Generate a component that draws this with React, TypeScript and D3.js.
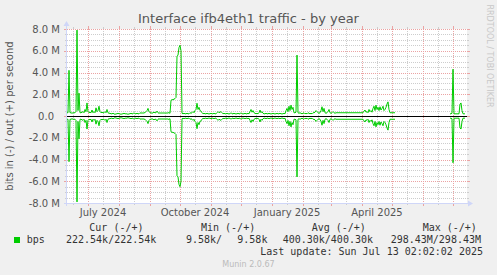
import React from 'react';
import * as d3 from 'd3';

// ---------- data ----------
const startDate = new Date(2024, 5, 10);
const endDate = new Date(2025, 6, 15);
// daily values in Mbit/s (out = +, in = -; identical on this interface)
const segmentStartDays = [0, 383];
const segmentA = [
  0.3, 0.3, 4.2, 0.3, 0.3, 0.25, 0.3, 0.3, 0.3, 0.4,
  7.9, 0.5, 2.1, 0.3, 0.3, 0.35, 0.4, 0.3, 0.6, 0.4,
  1.2, 0.4, 0.3, 0.35, 0.3, 0.55, 0.3, 0.4, 0.3, 0.75,
  0.4, 0.5, 0.9, 0.4, 0.3, 0.35, 0.3, 0.3, 0.4, 0.3,
  0.6, 0.3, 0.25, 0.25, 0.2, 0.2, 0.25, 0.2, 0.15, 0.2,
  0.2, 0.25, 0.2, 0.2, 0.15, 0.2, 0.2, 0.25, 0.2, 0.2,
  0.2, 0.15, 0.2, 0.2, 0.25, 0.2, 0.2, 0.3, 0.2, 0.2,
  0.25, 0.2, 0.2, 0.3, 0.25, 0.3, 0.25, 0.3, 0.3, 0.4,
  0.5, 0.7, 0.4, 0.3, 0.3, 0.25, 0.3, 0.35, 0.3, 0.3,
  0.45, 0.3, 0.25, 0.3, 0.25, 0.3, 0.25, 0.3, 0.25, 0.3,
  0.25, 0.3, 0.3, 0.25, 1.45, 1.5, 1.5, 1.55, 1.6, 1.7,
  5.5, 5.6, 6.3, 6.5, 6.0, 0.25, 0.2, 0.25, 0.2, 0.2,
  0.25, 0.2, 0.2, 0.3, 0.25, 0.3, 0.4, 0.3, 0.5, 0.6,
  1.17, 0.6, 0.8, 0.5, 0.45, 0.3, 0.2, 0.25, 0.2, 0.2,
  0.25, 0.2, 0.2, 0.2, 0.25, 0.2, 0.2, 0.25, 0.2, 0.2,
  0.3, 0.4, 0.3, 0.35, 0.4, 0.3, 0.2, 0.25, 0.2, 0.2,
  0.25, 0.2, 0.2, 0.2, 0.3, 0.2, 0.2, 0.25, 0.2, 0.2,
  0.2, 0.25, 0.2, 0.2, 0.3, 0.2, 0.2, 0.2, 0.25, 0.2,
  0.2, 0.25, 0.2, 0.4, 0.6, 0.35, 0.5, 0.3, 0.25, 0.2,
  0.25, 0.2, 0.3, 0.55, 0.3, 0.4, 0.25, 0.2, 0.2, 0.25,
  0.2, 0.2, 0.25, 0.2, 0.2, 0.2, 0.25, 0.2, 0.2, 0.2,
  0.25, 0.2, 0.2, 0.25, 0.2, 0.2, 0.2, 0.25, 0.2, 0.5,
  0.7, 0.4, 0.9, 0.5, 1.0, 0.6, 0.8, 0.3, 0.3, 0.35,
  5.6, 0.3, 0.25, 0.3, 0.25, 0.2, 0.25, 0.3, 0.2, 0.25,
  0.2, 0.3, 0.25, 0.2, 0.25, 0.2, 0.3, 0.3, 0.35, 0.5,
  0.4, 0.3, 0.25, 0.3, 0.5, 0.85, 0.4, 0.7, 0.3, 0.25,
  0.3, 0.4, 0.6, 0.3, 0.25, 0.3, 0.4, 0.3, 0.25, 0.3,
  0.3, 0.3, 0.3, 0.3, 0.3, 0.3, 0.3, 0.3, 0.3, 0.3,
  0.3, 0.3, 0.3, 0.3, 0.3, 0.3, 0.3, 0.3, 0.3, 0.3,
  0.3, 0.3, 0.3, 0.3, 0.3, 0.3, 0.3, 0.45, 0.55, 0.35,
  0.4, 0.3, 0.6, 0.4, 0.5, 0.35, 0.7, 0.9, 0.5, 1.0,
  0.6, 0.8, 0.5, 0.85, 0.55, 0.7, 0.9, 0.5, 0.6, 0.8,
  1.1, 1.3, 0.6, 0.3, 0.3, 0.3, 0.3, 0.3, 0.3,
];
const segmentB = [
  0.2, 0.2, 0.25, 4.3, 0.2, 0.2, 0.2, 0.2, 0.2, 0.2,
  1.1, 1.2, 0.5, 0.2, 0.2, 0.2,
];
const segments = [segmentA, segmentB];

const yTickValues = [-8, -6, -4, -2, 0, 2, 4, 6, 8];
const yMinorStep = 0.5;
const labelMonths = [0, 3, 6, 9];

const title = 'Interface ifb4eth1 traffic - by year';
const yTitle = 'bits in (-) / out (+) per second';
const legendHeaders = ['Cur (-/+)', 'Min (-/+)', 'Avg (-/+)', 'Max (-/+)'];
const legendName = 'bps';
const legendCells = ['222.54k/222.54k', '9.58k/', '9.58k', '400.30k/400.30k', '298.43M/298.43M'];
const lastUpdate = 'Last update: Sun Jul 13 02:02:02 2025';
const credit = 'RRDTOOL / TOBI OETIKER';
const version = 'Munin 2.0.67';

// ---------- layout ----------
const W = 497;
const H = 275;
const X0 = 67;
const X1 = 467;
const YT = 29;
const YB = 203;
const GREEN = '#00cc00';
const GRID = '#cdcdcd';
const MGRID = '#eba3a3';
const AXIS = '#cfd6f8';
const SANS = 'DejaVu Sans';
const MONO = 'DejaVu Sans Mono';

export default function App() {
  const x = d3.scaleTime().domain([startDate, endDate]).range([X0, X1]);
  const y = d3.scaleLinear().domain([-8e6, 8e6]).range([YB, YT]);

  const majorMonths = d3.timeMonth.range(d3.timeMonth.ceil(startDate), endDate);
  const minorDates = d3.timeMonth
    .range(d3.timeMonth.floor(startDate), endDate)
    .map((m) => d3.timeDay.offset(m, 15))
    .filter((d) => d >= startDate && d <= endDate);
  const labelDates = minorDates.filter((d) => labelMonths.includes(d.getMonth()));
  const yMinor = d3.range(-8, 8.0001, yMinorStep).filter((v) => Math.abs(v % 2) > 1e-9);

  const line = d3
    .line<[Date, number]>()
    .x((d) => x(d[0]))
    .y((d) => y(d[1]));

  const paths: string[] = [];
  segments.forEach((seg, si) => {
    const pts = seg.map((v, i) => [d3.timeDay.offset(startDate, segmentStartDays[si] + i), v * 1e6] as [Date, number]);
    paths.push(line(pts) || '');
    paths.push(line(pts.map((p) => [p[0], -p[1]] as [Date, number])) || '');
  });

  const px = (v: number) => Math.round(v) + 0.5;
  const fmt = d3.timeFormat('%B %Y');

  return (
    <svg width={W} height={H} style={{ position: 'absolute', left: 0, top: 0, display: 'block' }}>
      <rect x={0} y={0} width={W} height={H} fill="#f0f0f0" />
      <rect x={X0} y={YT} width={X1 - X0} height={YB - YT} fill="#ffffff" />

      {/* minor grid */}
      <g stroke={GRID} strokeWidth={1} shapeRendering="crispEdges">
        {yMinor.map((v) => (
          <g key={'hm' + v}>
            <line x1={X0} x2={X1} y1={px(y(v * 1e6))} y2={px(y(v * 1e6))} strokeDasharray="1,1" />
            <line x1={X0 - 2} x2={X0} y1={px(y(v * 1e6))} y2={px(y(v * 1e6))} />
            <line x1={X1} x2={X1 + 2} y1={px(y(v * 1e6))} y2={px(y(v * 1e6))} />
          </g>
        ))}
        {minorDates.map((d) => (
          <g key={'vm' + d.getTime()}>
            <line x1={px(x(d))} x2={px(x(d))} y1={YT} y2={YB} strokeDasharray="1,1" />
            <line x1={px(x(d))} x2={px(x(d))} y1={YB} y2={YB + 2} />
            <line x1={px(x(d))} x2={px(x(d))} y1={YT - 2} y2={YT} />
          </g>
        ))}
      </g>
      {/* major grid */}
      <g stroke={MGRID} strokeWidth={1} shapeRendering="crispEdges">
        {yTickValues.map((v) => (
          <g key={'hM' + v}>
            <line x1={X0} x2={X1} y1={px(y(v * 1e6))} y2={px(y(v * 1e6))} strokeDasharray="1,1" />
            <line x1={X0 - 3} x2={X0} y1={px(y(v * 1e6))} y2={px(y(v * 1e6))} />
            <line x1={X1} x2={X1 + 3} y1={px(y(v * 1e6))} y2={px(y(v * 1e6))} />
          </g>
        ))}
        {majorMonths.map((d) => (
          <g key={'vM' + d.getTime()}>
            <line x1={px(x(d))} x2={px(x(d))} y1={YT} y2={YB} strokeDasharray="1,1" />
            <line x1={px(x(d))} x2={px(x(d))} y1={YB} y2={YB + 3} />
            <line x1={px(x(d))} x2={px(x(d))} y1={YT - 3} y2={YT} />
          </g>
        ))}
      </g>

      {/* axes */}
      <g stroke={AXIS} strokeWidth={1} shapeRendering="crispEdges">
        <line x1={X0 - 0.5} x2={X0 - 0.5} y1={YB + 3} y2={YT - 5} />
        <line x1={X0 - 3} x2={X1 + 3} y1={YB + 0.5} y2={YB + 0.5} />
      </g>
      <path d={`M${X0 - 0.5},${YT - 8} L${X0 - 3.5},${YT - 3} L${X0 + 2.5},${YT - 3} Z`} fill={AXIS} />
      <path d={`M${X1 + 6},${YB + 0.5} L${X1 + 1},${YB - 2.5} L${X1 + 1},${YB + 3.5} Z`} fill={AXIS} />

      {/* zero line */}
      <line x1={X0} x2={X1} y1={px(y(0))} y2={px(y(0))} stroke="#000" strokeWidth={1} shapeRendering="crispEdges" />

      {/* data */}
      {paths.map((d, i) => (
        <path key={i} d={d} fill="none" stroke={GREEN} strokeWidth={1} />
      ))}

      {/* y labels */}
      <g fontFamily={SANS} fontSize={10} fill="#555">
        {yTickValues.map((v) => (
          <text key={'yl' + v} x={v === 0 ? 54 : 60} y={y(v * 1e6) + 3.5} textAnchor="end">
            {v === 0 ? '0.0' : `${v.toFixed(1)} M`}
          </text>
        ))}
        {labelDates.map((d) => (
          <text key={'xl' + d.getTime()} x={x(d)} y={216} textAnchor="middle">
            {fmt(d)}
          </text>
        ))}
        <text transform={`translate(12.5,${y(0)}) rotate(-90)`} textAnchor="middle">
          {yTitle}
        </text>
      </g>

      <text x={W / 2} y={23} textAnchor="middle" fontFamily={SANS} fontSize={13} fill="#555">
        {title}
      </text>
      <text transform="translate(487,56) rotate(90)" textAnchor="middle" fontFamily={SANS} fontSize={8} fill="#c8c8c8">
        {credit}
      </text>

      {/* legend */}
      <g fontFamily={MONO} fontSize={10} fill="#333" style={{ whiteSpace: 'pre' }}>
        {legendHeaders.map((h, i) => (
          <text key={h} x={[89.3, 201, 311.7, 422.7][i]} y={231}>
            {h}
          </text>
        ))}
        <rect x={14} y={237} width={6} height={6} fill={GREEN} />
        <text x={26.7} y={243}>{legendName}</text>
        {legendCells.map((c, i) => (
          <text key={i} x={[66, 186, 237.3, 282.7, 390.7][i]} y={243}>
            {c}
          </text>
        ))}
        <text x={483} y={255} textAnchor="end">
          {lastUpdate}
        </text>
      </g>
      <text x={W / 2} y={267} textAnchor="middle" fontFamily={SANS} fontSize={8} fill="#bbb">
        {version}
      </text>
    </svg>
  );
}
